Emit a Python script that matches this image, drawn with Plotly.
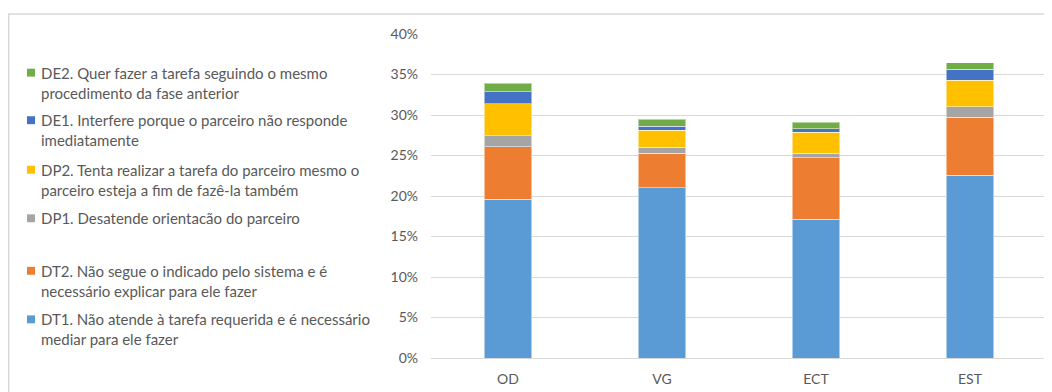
import plotly.graph_objects as go

categories = ["OD", "VG", "ECT", "EST"]
series_names = [
    "DT1. Não atende à tarefa requerida e é necessário<br>mediar para ele fazer",
    "DT2. Não segue o indicado pelo sistema e é<br>necessário explicar para ele fazer",
    "DP1. Desatende orientacão do parceiro",
    "DP2. Tenta realizar a tarefa do parceiro mesmo o<br>parceiro esteja a fim de fazê-la também",
    "DE1. Interfere porque o parceiro não responde<br>imediatamente",
    "DE2. Quer fazer a tarefa seguindo o mesmo<br>procedimento da fase anterior",
]
DT1 = [0.196, 0.210, 0.171, 0.2255]
DT2 = [0.065, 0.0425, 0.076, 0.0715]
DP1 = [0.0135, 0.0075, 0.006, 0.013]
DP2 = [0.0395, 0.021, 0.026, 0.033]
DE1 = [0.0145, 0.005, 0.004, 0.0135]
DE2 = [0.0105, 0.009, 0.008, 0.008]
series_values = [DT1, DT2, DP1, DP2, DE1, DE2]
colors = ["#5B9BD5", "#ED7D31", "#A5A5A5", "#FFC000", "#4472C4", "#70AD47"]
y_ticks = [0, 0.05, 0.10, 0.15, 0.20, 0.25, 0.30, 0.35, 0.40]

OFF = 8  # page body margin
W, H = 1052 - OFF, 392 - OFF
L, R, T, B = 431 - OFF, 5, 34 - OFF, 31
pw, ph = W - L - R, H - T - B

def px_x(x):  # page pixel -> paper
    return (x - OFF - L) / pw

def px_y(y):
    return (H - B - (y - OFF)) / ph

fig = go.Figure()
for name, vals, col in zip(series_names, series_values, colors):
    fig.add_trace(go.Bar(
        x=categories, y=vals, name=name,
        marker=dict(color=col, line=dict(color="rgba(255,255,255,0.5)", width=1)),
        showlegend=False,
    ))

# custom legend (top to bottom: reversed series order)
legend_tops = [62, 110, 160, 209, 262, 311]
font_family = "Lato, 'Open Sans', sans-serif"
for i, (name, col) in enumerate(zip(series_names[::-1], colors[::-1])):
    ytop = legend_tops[i]
    fig.add_annotation(
        x=px_x(39), y=px_y(ytop), xref="paper", yref="paper",
        xanchor="left", yanchor="top", align="left", showarrow=False,
        text=name, font=dict(family=font_family, size=15, color="#595959"),
    )
    fig.add_shape(
        type="rect", xref="paper", yref="paper",
        x0=px_x(27), x1=px_x(35), y0=px_y(ytop + 15), y1=px_y(ytop + 7),
        fillcolor=col, line=dict(width=0),
    )

# outer chart frame
fig.add_shape(
    type="rect", xref="paper", yref="paper",
    x0=px_x(8.75), x1=px_x(1080), y0=px_y(420), y1=px_y(13.75),
    line=dict(color="#D9D9D9", width=1.5), fillcolor="rgba(0,0,0,0)", layer="below",
)

fig.update_layout(
    width=W, height=H,
    margin=dict(l=L, r=R, t=T, b=B),
    barmode="stack", bargap=0.69,
    plot_bgcolor="white", paper_bgcolor="white",
    font=dict(family=font_family, size=13, color="#595959"),
    xaxis=dict(showgrid=False, showline=True, linecolor="#D9D9D9", linewidth=1,
               ticks="", ticklabelstandoff=8, tickfont=dict(size=14, color="#595959")),
    yaxis=dict(range=[0, 0.40], tickvals=y_ticks, tickformat=".0%",
               showgrid=True, gridcolor="#D9D9D9", gridwidth=1,
               zeroline=False, showline=False, ticks="", ticklabelstandoff=12,
               tickfont=dict(size=14, color="#595959")),
)

fig.write_html("out.html")
